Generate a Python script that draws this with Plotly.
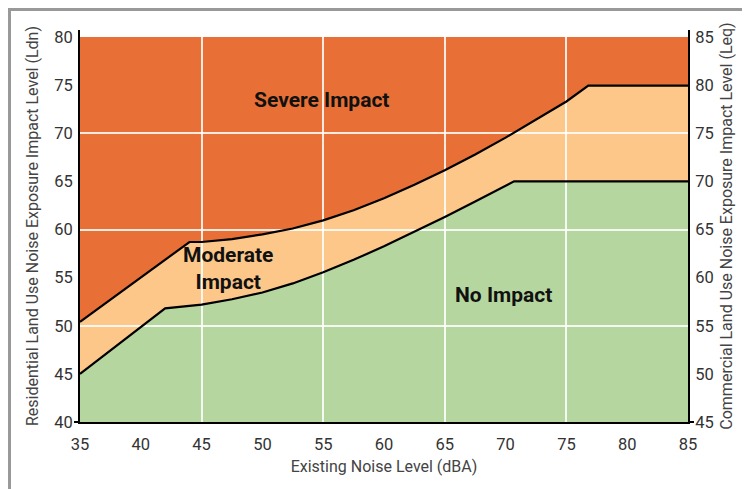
import plotly.graph_objects as go

# ---- data ----
x_moderate = [35, 42, 45, 47.5, 50, 52.5, 55, 57.5, 60, 62.5, 65, 67.5, 70, 70.7, 85]
y_moderate = [45.0, 51.8, 52.2, 52.75, 53.45, 54.4, 55.55, 56.85, 58.25, 59.75, 61.3, 62.9, 64.55, 65.0, 65.0]

x_severe = [35, 44, 45, 47.5, 50, 52.5, 55, 57.5, 60, 62.5, 65, 67.5, 70, 72.5, 75, 76.8, 85]
y_severe = [50.4, 58.7, 58.7, 59.0, 59.5, 60.1, 60.95, 62.0, 63.25, 64.65, 66.15, 67.8, 69.55, 71.4, 73.3, 74.95, 74.95]

x_top = [35, 85]
y_top = [80, 80]

x_ticks = [35, 40, 45, 50, 55, 60, 65, 70, 75, 80, 85]
left_ticks = [40, 45, 50, 55, 60, 65, 70, 75, 80]
right_ticks = [45, 50, 55, 60, 65, 70, 75, 80, 85]
grid_x = [45, 55, 65, 75]
grid_y = [50, 60, 70]
corner_tick_left = [40]
corner_tick_right = [45]

zone_labels = ["Severe Impact", "Moderate<br>Impact", "No Impact"]
zone_label_x = [54.9, 47.2, 69.8]
zone_label_y = [73.5, 55.9, 53.2]

x_range = [35, 85]
y_range = [40, 80.73]
y_right_range = [45, 85.73]

C_SEVERE = "#E87036"
C_MODERATE = "#FDC78A"
C_NONE = "#B6D6A0"
FONT = "Roboto, Liberation Sans, sans-serif"

fig = go.Figure()

# fills (subplot x/y)
fig.add_trace(go.Scatter(x=x_moderate, y=y_moderate, mode="lines", line=dict(width=0),
                         fill="tozeroy", fillcolor=C_NONE, hoverinfo="skip", showlegend=False))
fig.add_trace(go.Scatter(x=x_severe, y=y_severe, mode="lines", line=dict(width=0),
                         fill="tonexty", fillcolor=C_MODERATE, hoverinfo="skip", showlegend=False))
fig.add_trace(go.Scatter(x=x_top, y=y_top, mode="lines", line=dict(width=0),
                         fill="tonexty", fillcolor=C_SEVERE, hoverinfo="skip", showlegend=False))

# boundary lines (subplot x2/y2, drawn above its white grid)
fig.add_trace(go.Scatter(x=x_moderate, y=y_moderate, mode="lines", line=dict(color="black", width=2.2),
                         xaxis="x2", yaxis="y2", hoverinfo="skip", showlegend=False))
fig.add_trace(go.Scatter(x=x_severe, y=y_severe, mode="lines", line=dict(color="black", width=2.2),
                         xaxis="x2", yaxis="y2", hoverinfo="skip", showlegend=False))

# holders for the extra axes
for ax, yv in (("y3", y_right_range[0]), ("y4", y_range[0]), ("y5", y_right_range[0])):
    fig.add_trace(go.Scatter(x=[x_range[0]], y=[yv], mode="markers", marker=dict(opacity=0),
                             yaxis=ax, hoverinfo="skip", showlegend=False))

tickfont = dict(family=FONT, size=16.5, color="#333333")
titlefont = dict(family=FONT, size=16, color="#444444")
NOTICK = "rgba(0,0,0,0)"

ML, MR, MT, MB = 72, 70, 22, 75
PW, PH = 750 - ML - MR, 489 - MT - MB

fig.update_layout(
    width=750, height=489,
    margin=dict(l=ML, r=MR, t=MT, b=MB),
    paper_bgcolor="white",
    plot_bgcolor="rgba(0,0,0,0)",
    xaxis=dict(range=x_range, tickvals=x_ticks, showgrid=False, zeroline=False, automargin=False,
               showline=True, linecolor="black", linewidth=2, ticks="outside", ticklen=6, tickcolor=NOTICK,
               tickfont=tickfont, title=dict(text="Existing Noise Level (dBA)", font=titlefont, standoff=8)),
    yaxis=dict(range=y_range, tickvals=left_ticks, showgrid=False, zeroline=False, automargin=False,
               showline=True, linecolor="black", linewidth=2, ticks="outside", ticklen=2, tickcolor=NOTICK,
               tickfont=tickfont,
               title=dict(text="Residential Land Use Noise Exposure Impact Level (Ldn)", font=titlefont, standoff=12)),
    xaxis2=dict(range=x_range, domain=[0, 1], anchor="y2", tickvals=grid_x, showgrid=True,
                gridcolor="rgba(255,255,255,0.85)", gridwidth=1.5, showticklabels=False,
                zeroline=False, showline=False, ticks=""),
    yaxis2=dict(range=y_range, domain=[0, 1], anchor="x2", tickvals=grid_y, showgrid=True,
                gridcolor="rgba(255,255,255,0.85)", gridwidth=1.5, showticklabels=False,
                zeroline=False, showline=False, ticks=""),
    yaxis3=dict(range=y_right_range, tickvals=right_ticks, overlaying="y", side="right", anchor="x",
                showgrid=False, zeroline=False, showline=True, linecolor="black", linewidth=2,
                ticks="outside", ticklen=2, tickcolor=NOTICK,
                tickfont=tickfont, automargin=False,
                title=dict(text="Commercial Land Use Noise Exposure Impact Level (Leq)", font=titlefont, standoff=8)),
    yaxis4=dict(range=y_range, tickvals=corner_tick_left, overlaying="y", side="left", anchor="x",
                showgrid=False, zeroline=False, showline=False, showticklabels=False,
                ticks="outside", ticklen=5, tickwidth=2, tickcolor="black", automargin=False),
    yaxis5=dict(range=y_right_range, tickvals=corner_tick_right, overlaying="y", side="right", anchor="x",
                showgrid=False, zeroline=False, showline=False, showticklabels=False,
                ticks="outside", ticklen=5, tickwidth=2, tickcolor="black", automargin=False),
)

for t, x, y in zip(zone_labels, zone_label_x, zone_label_y):
    fig.add_annotation(x=x, y=y, xref="x", yref="y", text="<b>" + t + "</b>", showarrow=False,
                       font=dict(family=FONT, size=21, color="#111111"), align="center")

# grey frame around the figure
fig.add_shape(type="rect", xref="paper", yref="paper",
              x0=(1.5 - ML) / PW, x1=(770 - ML) / PW, y0=(PH + MT - 510) / PH, y1=(PH + MT - 1.5) / PH,
              line=dict(color="#999999", width=3), fillcolor="rgba(0,0,0,0)", layer="below")

fig.write_html("out.html")
